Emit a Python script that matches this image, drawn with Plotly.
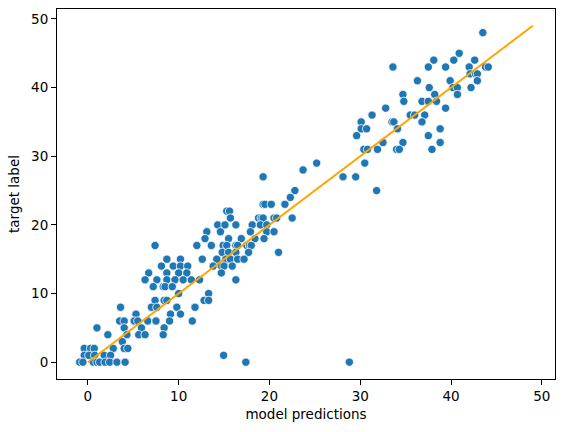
import plotly.graph_objects as go

# model predictions (x) and the matching target labels (y)
pred = [
    43.5,
    40.9,
    38.1, 40.3, 42.6,
    33.6, 37.5, 39.4, 42.0, 43.8, 44.1,
    42.1, 42.7, 42.9,
    36.3, 39.9, 42.9,
    37.6, 40.2, 40.7, 42.2,
    34.7, 38.2, 40.7,
    34.8, 36.8, 37.5, 38.4,
    32.8, 39.4,
    31.3, 35.5, 36.0, 37.1,
    30.1, 33.5, 33.7, 36.8,
    30.1, 30.7, 34.1, 38.8,
    29.6, 37.5,
    32.5, 34.7, 38.8,
    30.4, 30.8, 31.9, 34.0, 34.3, 37.9,
    30.5, 25.2,
    23.7,
    28.1, 29.5, 19.3,
    31.8, 22.8,
    22.3,
    19.3, 19.5, 20.2, 21.7,
    15.3, 15.6,
    15.7, 18.8, 19.1, 19.3, 20.5, 20.8, 22.5,
    14.3, 15.1, 16.3, 18.1, 19.0, 19.7,
    13.1, 14.6, 17.9, 19.7, 20.5,
    12.9, 15.5, 16.9, 18.4, 19.4,
    7.4, 12.0, 13.6, 14.9, 15.3, 16.3, 16.5, 17.5, 17.8, 18.0,
    14.8, 15.5, 16.3, 17.7, 21.0,
    12.6, 14.2, 15.2, 15.7, 16.5, 17.2, 8.7, 10.2,
    8.1, 9.4, 10.2, 11.0, 13.8, 14.7, 15.0, 15.9,
    6.7, 8.7, 10.0, 10.9, 14.7,
    6.3, 7.6, 8.7, 9.6, 10.5, 11.4, 12.3, 16.3,
    7.2, 8.3, 8.5, 9.3,
    10.0, 13.3,
    7.4, 8.4, 8.7, 12.8, 13.3,
    3.6, 7.0, 7.6, 9.8, 11.8,
    5.3, 9.1, 10.2,
    3.5, 4.0, 5.1, 5.5, 6.6, 7.5, 9.0, 11.5,
    1.0, 4.0, 5.9, 8.4,
    2.2, 4.3, 5.6, 6.3, 8.3,
    3.8,
    -0.4, 0.3, 0.7, 2.8, 4.0, 4.4,
    -0.4, 0.1, 0.75, 1.8, 2.5, 14.95,
    -0.9, -0.55, 0.6, 1.0, 1.3, 1.9, 2.4, 3.2, 4.1, 17.4, 28.8,
]
target = [
    48,
    45,
    44, 44, 44,
    43, 43, 43, 43, 43, 43,
    42, 42, 42,
    41, 41, 41,
    40, 40, 40, 40,
    39, 39, 39,
    38, 38, 38, 38,
    37, 37,
    36, 36, 36, 36,
    35, 35, 35, 35,
    34, 34, 34, 34,
    33, 33,
    32, 32, 32,
    31, 31, 31, 31, 31, 31,
    29, 29,
    28,
    27, 27, 27,
    25, 25,
    24,
    23, 23, 23, 23,
    22, 22,
    21, 21, 21, 21, 21, 21, 21,
    20, 20, 20, 20, 20, 20,
    19, 19, 19, 19, 19,
    18, 18, 18, 18, 18,
    17, 17, 17, 17, 17, 17, 17, 17, 17, 17,
    16, 16, 16, 16, 16,
    15, 15, 15, 15, 15, 15, 15, 15,
    14, 14, 14, 14, 14, 14, 14, 14,
    13, 13, 13, 13, 13,
    12, 12, 12, 12, 12, 12, 12, 12,
    11, 11, 11, 11,
    10, 10,
    9, 9, 9, 9, 9,
    8, 8, 8, 8, 8,
    7, 7, 7,
    6, 6, 6, 6, 6, 6, 6, 6,
    5, 5, 5, 5,
    4, 4, 4, 4, 4,
    3,
    2, 2, 2, 2, 2, 2,
    1, 1, 1, 1, 1, 1,
    0, 0, 0, 0, 0, 0, 0, 0, 0, 0, 0,
]

# identity reference line
line_x = [0, 49]
line_y = [0, 49]

x_ticks = [0, 10, 20, 30, 40, 50]
y_ticks = [0, 10, 20, 30, 40, 50]

fig = go.Figure()
fig.add_trace(go.Scatter(
    x=pred, y=target, mode='markers',
    marker=dict(color='#1f77b4', size=8.3, line=dict(color='white', width=0.8)),
    showlegend=False,
))
fig.add_trace(go.Scatter(
    x=line_x, y=line_y, mode='lines',
    line=dict(color='orange', width=2),
    showlegend=False,
))

axis_style = dict(
    showgrid=False, zeroline=False, automargin=False,
    showline=True, linecolor='black', linewidth=1.1, mirror=True,
    ticks='outside', ticklen=5, tickwidth=1.1, tickcolor='black',
    tickfont=dict(family='DejaVu Sans', size=13.5, color='black'),
)
fig.update_xaxes(
    range=[-3.4, 51.45], tickvals=x_ticks,
    title=dict(text='model predictions', font=dict(family='DejaVu Sans', size=13.5, color='black'), standoff=6),
    **axis_style,
)
fig.update_yaxes(
    range=[-2.45, 51.45], tickvals=y_ticks,
    title=dict(text='target label', font=dict(family='DejaVu Sans', size=13.5, color='black'), standoff=8),
    **axis_style,
)
fig.update_layout(
    width=563, height=432,
    margin=dict(l=57, r=8, t=9, b=53),
    plot_bgcolor='white', paper_bgcolor='white',
)
# drop the browser's default page margin so the figure sits at the top-left corner
fig.write_html("out.html", config={'displayModeBar': False},
               post_script="document.body.style.margin='0';")
